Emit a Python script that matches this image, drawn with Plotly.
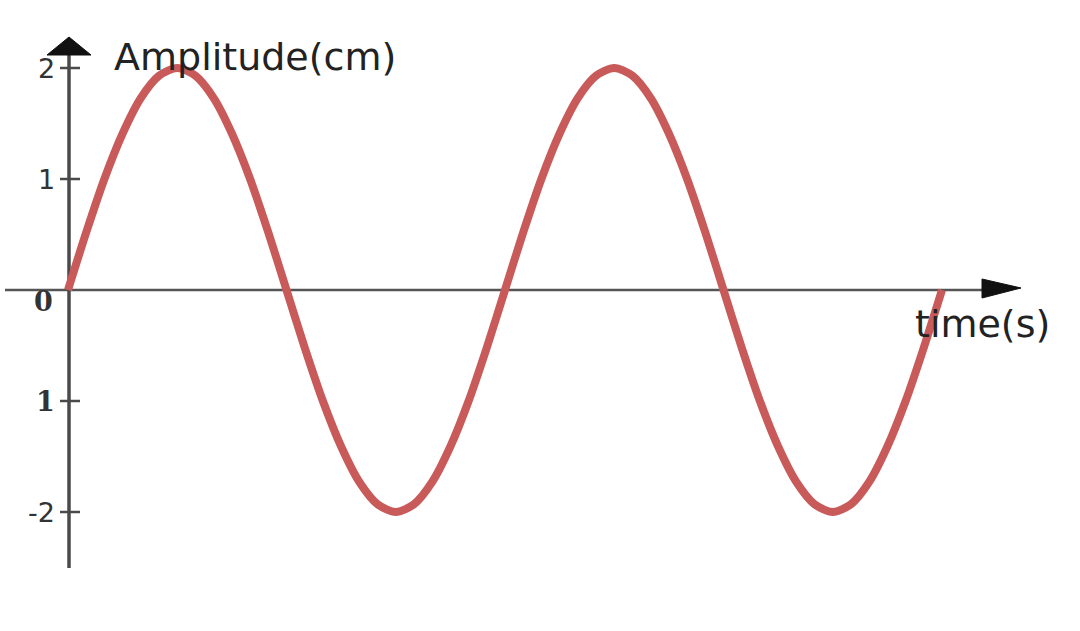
import plotly.graph_objects as go

time_s = [0.0, 0.167, 0.333, 0.5, 0.667, 0.833, 1.0, 1.167, 1.333, 1.5, 1.667, 1.833,
          2.0, 2.167, 2.333, 2.5, 2.667, 2.833, 3.0, 3.167, 3.333, 3.5, 3.667, 3.833,
          4.0, 4.167, 4.333, 4.5, 4.667, 4.833, 5.0, 5.167, 5.333, 5.5, 5.667, 5.833,
          6.0, 6.167, 6.333, 6.5, 6.667, 6.833, 7.0, 7.167, 7.333, 7.5, 7.667, 7.833, 8.0]
amplitude_cm = [0.0, 0.52, 1.0, 1.41, 1.73, 1.93, 2.0, 1.93, 1.73, 1.41, 1.0, 0.52,
                0.0, -0.52, -1.0, -1.41, -1.73, -1.93, -2.0, -1.93, -1.73, -1.41, -1.0, -0.52,
                0.0, 0.52, 1.0, 1.41, 1.73, 1.93, 2.0, 1.93, 1.73, 1.41, 1.0, 0.52,
                0.0, -0.52, -1.0, -1.41, -1.73, -1.93, -2.0, -1.93, -1.73, -1.41, -1.0, -0.52, 0.0]
y_tick_values = [2, 1, -1, -2]
y_tick_labels = ["2", "1", "1", "-2"]
y_tick_fonts = ["DejaVu Sans", "DejaVu Sans", "DejaVu Serif", "DejaVu Sans"]
origin_label = "0"
y_title = "Amplitude(cm)"
x_title = "time(s)"

W, H = 1080, 631
X0PX, XSCALE = 68.0, 109.25
Y0PX, YSCALE = 290.0, 111.0


def px2x(p):
    return (p - X0PX) / XSCALE


def px2y(p):
    return (Y0PX - p) / YSCALE


AXIS = "#4a4a4a"
fig = go.Figure()
fig.add_trace(go.Scatter(x=time_s, y=amplitude_cm, mode="lines",
                         line=dict(color="#c85a5a", width=8, shape="spline", smoothing=0.8),
                         hoverinfo="skip", showlegend=False))

shapes = []
# x axis line
shapes.append(dict(type="line", x0=px2x(5), x1=px2x(988), y0=0, y1=0,
                   line=dict(color="#555555", width=2.5), layer="below"))
# y axis line
shapes.append(dict(type="line", x0=px2x(69), x1=px2x(69), y0=px2y(50), y1=px2y(568),
                   line=dict(color=AXIS, width=3.5), layer="below"))
# arrow heads
shapes.append(dict(type="path",
                   path=f"M {px2x(47)} {px2y(55)} L {px2x(69)} {px2y(37)} L {px2x(91)} {px2y(55)} Z",
                   fillcolor="#111111", line=dict(color="#111111", width=1)))
shapes.append(dict(type="path",
                   path=f"M {px2x(982)} {px2y(279)} L {px2x(1021)} {px2y(288)} L {px2x(982)} {px2y(298)} Z",
                   fillcolor="#111111", line=dict(color="#111111", width=1)))
# tick marks
for v in y_tick_values:
    shapes.append(dict(type="line", x0=px2x(60), x1=px2x(80), y0=v, y1=v,
                       line=dict(color=AXIS, width=2.5), layer="below"))

annotations = []
for v, t, f in zip(y_tick_values, y_tick_labels, y_tick_fonts):
    annotations.append(dict(x=px2x(57), y=v, text=t, showarrow=False, xanchor="right",
                            yanchor="middle",
                            font=dict(family=f, size=27, color="#333333",
                                      weight="bold" if "Serif" in f else "normal")))
annotations.append(dict(x=px2x(55), y=px2y(301), text=origin_label, showarrow=False,
                        xanchor="right", yanchor="middle",
                        font=dict(family="DejaVu Serif", size=27, color="#333333", weight="bold")))
annotations.append(dict(x=px2x(112), y=px2y(57), text=y_title, showarrow=False,
                        xanchor="left", yanchor="middle",
                        font=dict(family="DejaVu Sans", size=38, color="#222222")))
annotations.append(dict(x=px2x(1052), y=px2y(324), text=x_title, showarrow=False,
                        xanchor="right", yanchor="middle",
                        font=dict(family="DejaVu Sans", size=38, color="#222222")))

fig.update_layout(
    width=W, height=H, margin=dict(l=0, r=0, t=0, b=0),
    paper_bgcolor="white", plot_bgcolor="white",
    xaxis=dict(range=[px2x(0), px2x(W)], visible=False, fixedrange=True),
    yaxis=dict(range=[px2y(H), px2y(0)], visible=False, fixedrange=True),
    shapes=shapes, annotations=annotations, showlegend=False,
)

fig.write_html("out.html", config={"displayModeBar": False},
               post_script="document.body.style.margin='0';document.body.style.overflow='hidden';")
